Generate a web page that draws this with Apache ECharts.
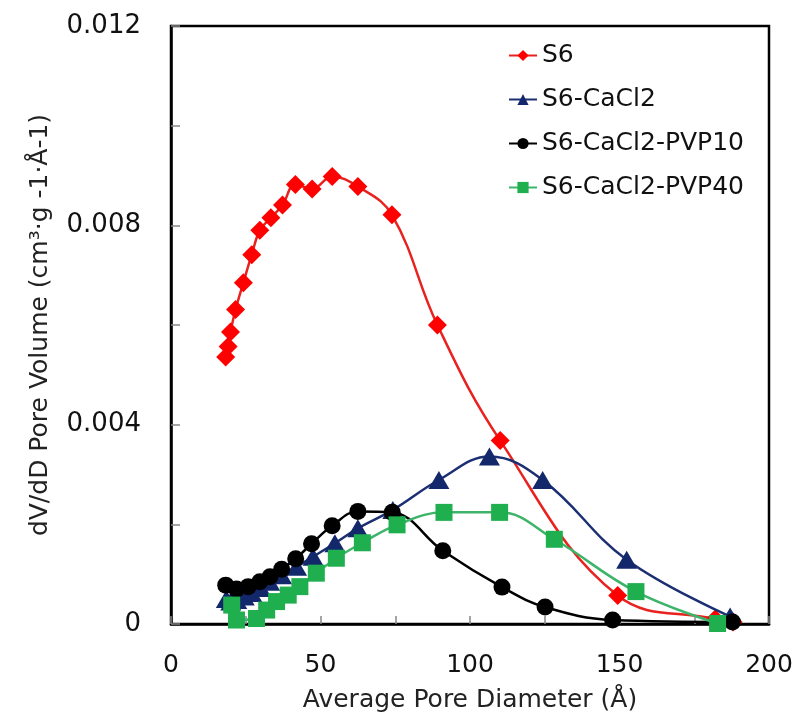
<!DOCTYPE html>
<html>
<head>
<meta charset="utf-8">
<script src="https://cdn.jsdelivr.net/npm/echarts@6/dist/echarts.min.js"></script>
<style>
html,body{margin:0;padding:0;background:#fff;}
#chart{width:798px;height:721px;}
</style>
</head>
<body>
<div id="chart"></div>
<script>
// Series names
const seriesNames = ['S6', 'S6-CaCl2', 'S6-CaCl2-PVP10', 'S6-CaCl2-PVP40'];

// S6 (red diamonds): x = average pore diameter (Å), y = dV/dD
const s6X = [18.3, 19.1, 19.9, 21.6, 24.2, 27.0, 29.7, 33.4, 37.3, 41.6, 47.2, 53.9, 62.5, 73.9, 89.1, 110.1, 149.4, 182.0, 188.0];
const s6Y = [0.00536, 0.00557, 0.00586, 0.00631, 0.00685, 0.00741, 0.00790, 0.00815, 0.00841, 0.00882, 0.00873, 0.00898, 0.00878, 0.00821, 0.00600, 0.00368, 0.00057, 0.00010, 0.00004];

// S6-CaCl2 (navy triangles)
const caX = [18.5, 20.0, 22.0, 24.5, 27.0, 30.0, 33.0, 37.0, 42.0, 47.5, 54.8, 62.5, 74.2, 89.6, 106.5, 124.3, 152.4, 187.0];
const caY = [0.00050, 0.00045, 0.00048, 0.00055, 0.00062, 0.00072, 0.00085, 0.00098, 0.00115, 0.00135, 0.00162, 0.00192, 0.00229, 0.00289, 0.00336, 0.00289, 0.00129, 0.00015];

// S6-CaCl2-PVP10 (black circles)
const p10X = [18.3, 21.9, 25.8, 29.7, 33.1, 37.0, 41.7, 47.0, 53.9, 62.5, 74.0, 90.9, 110.7, 125.1, 147.7, 187.8];
const p10Y = [0.00078, 0.00070, 0.00075, 0.00085, 0.00095, 0.00110, 0.00131, 0.00161, 0.00197, 0.00226, 0.00224, 0.00147, 0.00074, 0.00034, 0.00008, 0.00004];

// S6-CaCl2-PVP40 (green squares)
const p40X = [20.3, 21.9, 28.6, 32.0, 35.3, 39.2, 43.1, 48.6, 55.3, 64.0, 75.6, 91.3, 109.9, 128.2, 155.5, 182.8];
const p40Y = [0.00038, 0.00008, 0.00011, 0.00028, 0.00045, 0.00058, 0.00075, 0.00102, 0.00132, 0.00163, 0.00199, 0.00224, 0.00224, 0.00170, 0.00065, 0.00001];

// Axis labels
const xTickLabels = ['0', '50', '100', '150', '200'];
const yTickLabels = ['0', '0.004', '0.008', '0.012'];

function pairs(xs, ys) { return xs.map((x, i) => [x, ys[i]]); }

const FONT = 'DejaVu Sans';
const chart = echarts.init(document.getElementById('chart'), null, {renderer: 'canvas'});

const styles = [
  {color: '#FF0000', line: '#E8231F', symbol: 'diamond', size: [19, 19]},
  {color: '#13286B', line: '#1B2F72', symbol: 'triangle', size: [21, 18]},
  {color: '#000000', line: '#000000', symbol: 'circle', size: 17},
  {color: '#1FAF4F', line: '#3DB46A', symbol: 'rect', size: 17}
];
const datasets = [pairs(s6X, s6Y), pairs(caX, caY), pairs(p10X, p10Y), pairs(p40X, p40Y)];

chart.setOption({
  animation: false,
  backgroundColor: '#fff',
  textStyle: {fontFamily: FONT},
  grid: {left: 171, right: 29, top: 26, bottom: 97, show: true, borderColor: '#000', borderWidth: 2.5, backgroundColor: 'transparent'},
  legend: {
    orient: 'vertical', left: 503, top: 38, itemGap: 19, itemWidth: 28, itemHeight: 14,
    textStyle: {fontFamily: FONT, fontSize: 25, color: '#111'},
    data: seriesNames
  },
  xAxis: {
    type: 'value', min: 0, max: 200, interval: 25,
    name: 'Average Pore Diameter (Å)', nameLocation: 'middle', nameGap: 64,
    nameTextStyle: {fontFamily: FONT, fontSize: 25, color: '#222'},
    axisLine: {show: true, lineStyle: {color: '#000', width: 2.5}},
    axisTick: {show: true, inside: true, length: 8, lineStyle: {color: '#888', width: 1.5}},
    axisLabel: {
      fontFamily: FONT, fontSize: 25, color: '#111', margin: 29,
      formatter: v => (v % 50 === 0 ? xTickLabels[v / 50] : '')
    },
    splitLine: {show: false}
  },
  yAxis: {
    type: 'value', min: 0, max: 0.012, interval: 0.002,
    name: 'dV/dD Pore Volume (cm³·g -1·Å-1)', nameLocation: 'middle', nameGap: 118,
    nameTextStyle: {fontFamily: FONT, fontSize: 25, color: '#222'},
    axisLine: {show: true, lineStyle: {color: '#000', width: 2.5}},
    axisTick: {show: true, inside: true, length: 9, lineStyle: {color: '#888', width: 1.5}},
    axisLabel: {
      fontFamily: FONT, fontSize: 26, color: '#111', margin: 30,
      formatter: v => {
        const k = Math.round(v / 0.002);
        return k % 2 === 0 ? yTickLabels[k / 2] : '';
      }
    },
    splitLine: {show: false}
  },
  series: datasets.map((d, i) => ({
    name: seriesNames[i],
    type: 'line',
    data: d,
    smooth: 0.4,
    symbol: styles[i].symbol,
    symbolSize: styles[i].size,
    showAllSymbol: true,
    itemStyle: {color: styles[i].color, borderWidth: 0},
    lineStyle: {color: styles[i].line, width: 2.5},
    z: 2 + i
  }))
});
</script>
</body>
</html>
